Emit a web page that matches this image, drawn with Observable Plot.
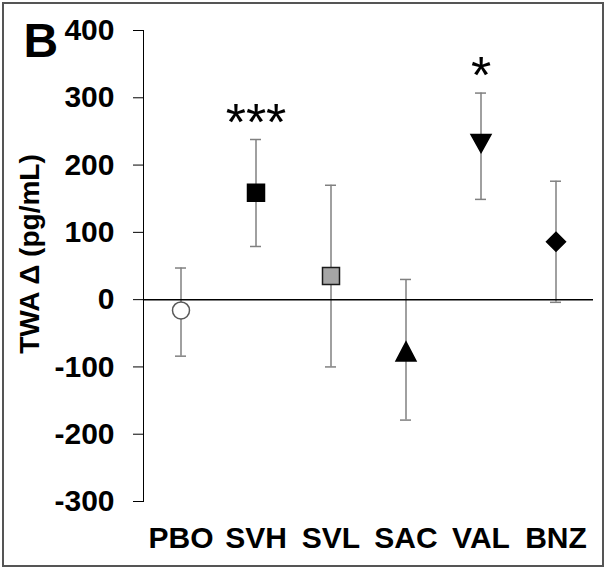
<!DOCTYPE html>
<html><head><meta charset="utf-8">
<script src="https://cdn.jsdelivr.net/npm/d3@7"></script>
<script src="https://cdn.jsdelivr.net/npm/@observablehq/plot@0.6"></script>
<style>body{margin:0;background:#fff}</style>
</head><body><div id="chart"></div>
<script>
// ---- data ----
const categories = ["PBO", "SVH", "SVL", "SAC", "VAL", "BNZ"];
const means = [-16, 159, 35, -77, 232, 86];
const upper = [47, 238, 170, 30, 307, 176];
const lower = [-84, 79, -100, -179, 149, -4];
const significance = ["", "***", "", "", "*", ""];
const yTicks = [-300, -200, -100, 0, 100, 200, 300, 400];
const panelLetter = "B";
const yTitle = "TWA \u0394 (pg/mL)";

const data = categories.map((c, i) => ({cat: c, mean: means[i], hi: upper[i], lo: lower[i], sig: significance[i]}));

// ---- marker styles ----
const sym = (f) => ({draw(ctx, size) { const u = Math.sqrt(size / Math.PI); f(ctx, u); }});
const circle = sym((c, u) => { const r = 0.85 * u; c.moveTo(r, 0); c.arc(0, 0, r, 0, 2 * Math.PI); c.closePath(); });
const square = sym((c, u) => { const h = 0.85 * u; c.moveTo(-h, -h); c.lineTo(h, -h); c.lineTo(h, h); c.lineTo(-h, h); c.closePath(); });
const triUp = sym((c, u) => { c.moveTo(0, -0.95 * u); c.lineTo(1.0 * u, 0.95 * u); c.lineTo(-1.0 * u, 0.95 * u); c.closePath(); });
const triDown = sym((c, u) => { c.moveTo(0, 0.9 * u); c.lineTo(1.0 * u, -0.9 * u); c.lineTo(-1.0 * u, -0.9 * u); c.closePath(); });
const diamond = sym((c, u) => { const h = 0.95 * u; c.moveTo(0, -h); c.lineTo(h, 0); c.lineTo(0, h); c.lineTo(-h, 0); c.closePath(); });
const markerSymbols = [circle, square, square, triUp, triDown, diamond];
const markerFill = {PBO: "#ffffff", SVH: "#000000", SVL: "#a6a6a6", SAC: "#000000", VAL: "#000000", BNZ: "#000000"};
const markerStroke = {PBO: "#595959", SVH: "#000000", SVL: "#1a1a1a", SAC: "#000000", VAL: "#000000", BNZ: "#000000"};
const errColor = "#808080";

const chart = Plot.plot({
  width: 606,
  height: 569,
  marginLeft: 143,
  marginRight: 13,
  marginTop: 30,
  marginBottom: 68,
  style: {fontFamily: "'Liberation Sans', Arial, sans-serif", fontSize: "30px", fontWeight: "bold", background: "#fff", color: "#000"},
  x: {domain: categories, padding: 0, tickSize: 0, tickPadding: 25, label: null},
  y: {domain: [-300, 400], ticks: yTicks, tickFormat: d => String(d), tickSize: 10, tickPadding: 19, line: true, label: null},
  symbol: {domain: categories, range: markerSymbols},
  marks: [
    Plot.ruleX(data, {x: "cat", y1: "lo", y2: "hi", stroke: errColor, strokeWidth: 1.5}),
    Plot.tickY(data, {x: "cat", y: "hi", stroke: errColor, strokeWidth: 1.5, inset: 32}),
    Plot.tickY(data, {x: "cat", y: "lo", stroke: errColor, strokeWidth: 1.5, inset: 32}),
    Plot.ruleY([0], {stroke: "#000", strokeWidth: 1.5}),
    Plot.dot(data, {x: "cat", y: "mean", symbol: "cat", r: 10, fill: d => markerFill[d.cat], stroke: d => markerStroke[d.cat], strokeWidth: 1.5}),
    Plot.text(data.filter(d => d.sig), {x: "cat", y: "hi", text: "sig", lineAnchor: "bottom", dy: 0, fontSize: 52, fontWeight: "normal"}),
    Plot.text([yTitle], {frameAnchor: "left", textAnchor: "middle", lineAnchor: "middle", rotate: -90, dx: -113, dy: -12, fontSize: 28, fontWeight: "bold"}),
    Plot.text([panelLetter], {frameAnchor: "top-left", textAnchor: "start", lineAnchor: "top", dx: -120, dy: -8, fontSize: 48, fontWeight: "bold"})
  ]
});
chart.style.outline = "2px solid #555";
chart.style.outlineOffset = "-4px";
chart.style.display = "block";
document.getElementById("chart").appendChild(chart);
</script>
</body></html>
